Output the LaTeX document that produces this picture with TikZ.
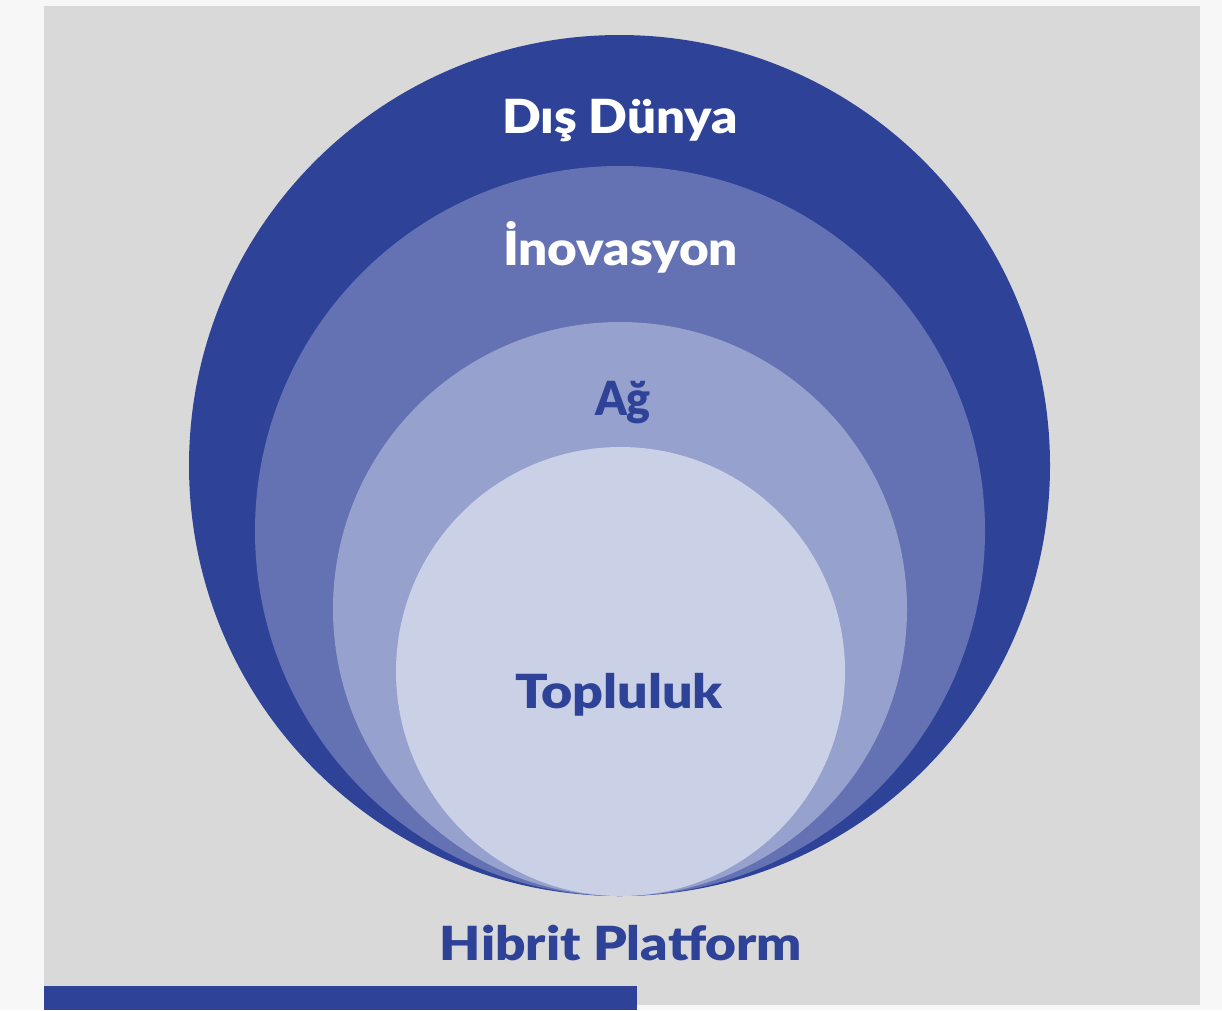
\documentclass[tikz,border=0pt]{standalone}
\usepackage{fontspec}
\usepackage{graphicx}
\setmainfont{Lato}[BoldFont={Lato Black}]
\definecolor{bgc}{HTML}{F7F7F7}
\definecolor{panel}{HTML}{D9D9D9}
\definecolor{c1}{HTML}{2E4398}
\definecolor{c2}{HTML}{6472B4}
\definecolor{c3}{HTML}{97A1CE}
\definecolor{c4}{HTML}{CAD0E6}
\newcommand{\fitw}[2]{\resizebox{#1}{\height}{#2}}
\tikzset{
  ring/.style={circle, inner sep=0pt, outer sep=0pt, draw=none},
  lbl/.style={anchor=base, inner sep=0pt, font=\fontsize{47}{51}\selectfont\bfseries},
}
\begin{document}
\begin{tikzpicture}[x=1pt,y=-1pt]
\useasboundingbox (0,0) rectangle (1222,1010);
\fill[bgc] (0,0) rectangle (1222,1010);
\fill[panel] (44,6) rectangle (1200,1005);
\fill[c1] (44,986) rectangle (637,1010);
\node[ring, fill=c1, minimum size=861pt] (outer) at (619.5,465.5) {};
\node[ring, fill=c2, minimum size=730pt] (innov) at (620,531) {};
\node[ring, fill=c3, minimum size=574pt] (net) at (620,609) {};
\node[ring, fill=c4, minimum size=449pt] (comm) at (620.5,671.5) {};
\node[lbl, text=white] (t1) at (620,133) {\fitw{236pt}{Dış Dünya}};
\node[lbl, text=white] (t2) at (620.5,265) {\fitw{235pt}{İnovasyon}};
\node[lbl, text=c1] (t3) at (623,415) {\fitw{56pt}{Ağ}};
\node[lbl, text=c1] (t4) at (619,708) {\fitw{208pt}{Topluluk}};
\node[lbl, text=c1] (t5) at (621,960) {\fitw{362pt}{Hibrit Platform}};
\end{tikzpicture}
\end{document}
